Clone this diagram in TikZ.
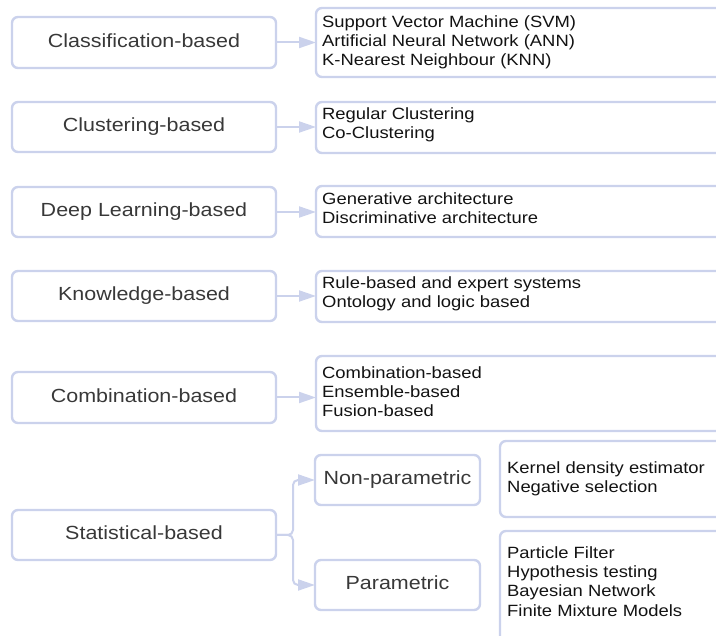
\documentclass[tikz,border=0pt]{standalone}
\usepackage{fontspec}
\setmainfont{Liberation Sans}[FakeStretch=1.13]
\usetikzlibrary{arrows.meta}
\definecolor{edge}{RGB}{203,210,236}
\definecolor{labelgray}{RGB}{56,56,56}
\definecolor{itemblack}{RGB}{18,18,18}
% strut fixing the top of the first line of an item list
\newcommand{\firstline}{\rule{0pt}{13pt}}
\begin{document}
\begin{tikzpicture}[x=1pt,y=-1pt,
  box/.style={draw=edge,line width=2.4pt,rounded corners=6pt,inner sep=0pt,
    outer sep=0pt,anchor=north west},
  catbox/.style={box,minimum height=50pt,text=labelgray,
    font=\fontsize{19}{23}\selectfont,text height=14pt,text depth=4pt},
  items/.style={anchor=north west,inner sep=0pt,align=left,text=itemblack,
    font=\fontsize{16.3}{19.3}\selectfont},
  link/.style={draw=edge,line width=2pt,rounded corners=5pt,
    -{Triangle[length=17pt,width=11pt]}}
]
\useasboundingbox (0,0) rectangle (716,636);
\clip (0,0) rectangle (716,636);

% category boxes
\node[catbox,minimum width=264pt,minimum height=51pt] (L1) at (12,17) {Classification-based};
\node[catbox,minimum width=264pt] (L2) at (12,102) {Clustering-based};
\node[catbox,minimum width=264pt] (L3) at (12,187) {Deep Learning-based};
\node[catbox,minimum width=264pt] (L4) at (12,271) {Knowledge-based};
\node[catbox,minimum width=264pt,minimum height=51pt] (L5) at (12,372) {Combination-based};
\node[catbox,minimum width=264pt] (L6) at (12,510) {Statistical-based};
\node[catbox,minimum width=165pt] (NP) at (315,455) {Non-parametric};
\node[catbox,minimum width=165pt] (PA) at (315,560) {Parametric};

% method boxes (running off the right edge)
\node[box,minimum width=440pt,minimum height=69pt] (R1) at (316,8) {};
\node[box,minimum width=440pt,minimum height=51pt] (R2) at (316,102) {};
\node[box,minimum width=440pt,minimum height=51pt] (R3) at (316,186) {};
\node[box,minimum width=440pt,minimum height=51pt] (R4) at (316,271) {};
\node[box,minimum width=440pt,minimum height=75pt] (R5) at (316,356) {};
\node[box,minimum width=300pt,minimum height=76pt] (RN) at (500,441) {};
\node[box,minimum width=300pt,minimum height=140pt] (RP) at (500,531) {};

% method lists
\node[items] (T1) at (322,14) {\firstline Support Vector Machine (SVM)\\Artificial Neural Network (ANN)\\K-Nearest Neighbour (KNN)};
\node[items] (T2) at (322,106) {\firstline Regular Clustering\\Co-Clustering};
\node[items] (T3) at (322,191) {\firstline Generative architecture\\Discriminative architecture};
\node[items] (T4) at (322,275) {\firstline Rule-based and expert systems\\Ontology and logic based};
\node[items] (T5) at (322,365) {\firstline Combination-based\\Ensemble-based\\Fusion-based};
\node[items] (TN) at (507,460) {\firstline Kernel density estimator\\Negative selection};
\node[items] (TP) at (507,545) {\firstline Particle Filter\\Hypothesis testing\\Bayesian Network\\Finite Mixture Models};

% connectors
\foreach \i in {1,...,5}
  \draw[link] (L\i.east) -- (L\i.east -| R\i.west);
\coordinate (fork) at (293,535);
\draw[link] (L6.east) -- (fork) |- (NP.west);
\draw[link] (L6.east) -- (fork) |- (PA.west);
\end{tikzpicture}
\end{document}
